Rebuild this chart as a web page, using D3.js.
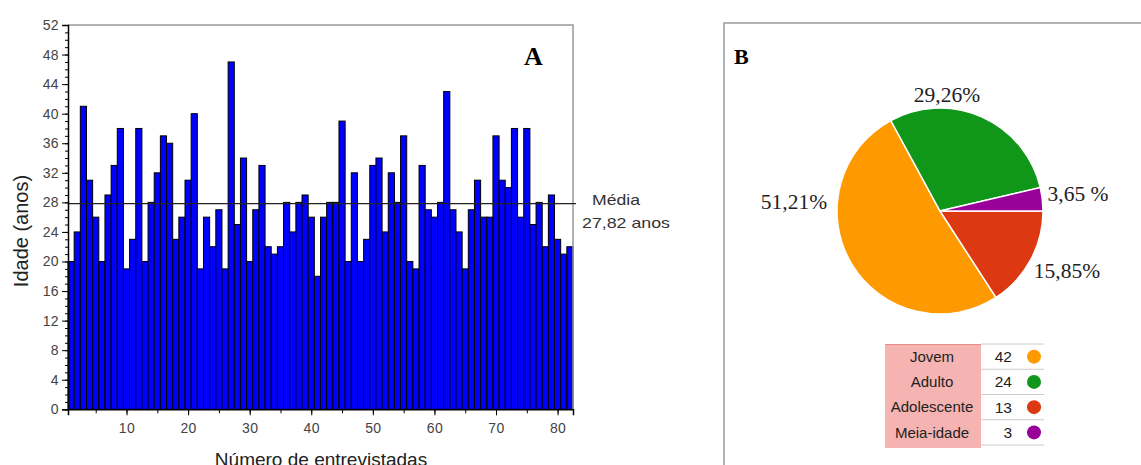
<!DOCTYPE html>
<html><head><meta charset="utf-8">
<script src="https://cdn.jsdelivr.net/npm/d3@7"></script>
<style>
body{margin:0;background:#fff;}
svg{display:block;font-family:"Liberation Sans",Arial,sans-serif;}
.tk text{fill:#444;font-size:14px;letter-spacing:0.4px;}
.tk path,.tk line{stroke:#000;}
</style></head>
<body><svg id="c" width="1141" height="465"></svg>
<script>
const W=1141,H=465;
// idade de cada entrevistada (1..82)
const idades=[20,24,41,31,26,20,29,33,38,19,23,38,20,28,32,37,36,23,26,31,40,19,
  26,22,27,19,47,25,34,20,27,33,22,21,22,28,24,28,29,26,18,26,28,28,39,20,32,20,23,33,
  34,24,32,28,37,20,19,33,27,26,28,43,27,24,19,27,31,26,26,37,31,30,38,26,38,25,28,22,29,23,21,22];
const media=27.82;
const yTicks=d3.range(0,53,4);
const xTicks=[10,20,30,40,50,60,70,80];

const grupos=['Jovem','Adulto','Adolescente','Meia-idade'];
const contagens=[42,24,13,3];
const cores=['#ff9900','#109618','#dc3912','#990099'];
const rotulos=['51,21%','29,26%','15,85%','3,65 %'];
const ordemPizza=['Adolescente','Jovem','Adulto','Meia-idade'];

const svg=d3.select('#c');
svg.append('rect').attr('width',W).attr('height',H).attr('fill','#fff');

/* ---------- painel A ---------- */
const L=68,R=573,T=25,B=409.3;
const x=d3.scaleLinear().domain([0.5,82.5]).range([L,R]);
const y=d3.scaleLinear().domain([0,52]).range([B,T]);
const gA=svg.append('g');
const bw=x(1)-x(0);
gA.selectAll('rect.bar').data(idades).join('rect').attr('class','bar')
  .attr('x',(d,i)=>x(i+1)-bw/2).attr('width',bw)
  .attr('y',d=>y(d)).attr('height',d=>B-y(d))
  .attr('fill','#0000ff').attr('stroke','#000').attr('stroke-width',1);
// moldura
gA.append('path').attr('d',`M${L},${T}H${R}V${B}`).attr('fill','none').attr('stroke','#999').attr('stroke-width',1.5);
// linha média
gA.append('line').attr('x1',L).attr('x2',R+3).attr('y1',y(media)).attr('y2',y(media))
  .attr('stroke','#222').attr('stroke-width',1.2);
gA.append('text').attr('x',592).attr('y',205).attr('fill','#333').attr('font-size',15)
  .attr('textLength',48).attr('lengthAdjust','spacingAndGlyphs').text('Média');
gA.append('text').attr('x',582).attr('y',228).attr('fill','#333').attr('font-size',15)
  .attr('textLength',88).attr('lengthAdjust','spacingAndGlyphs').text('27,82 anos');
// eixos
gA.append('g').attr('class','tk').attr('transform',`translate(${L},0)`)
  .call(d3.axisLeft(y).tickValues(d3.range(0,53,1)).tickSize(3).tickFormat(''));
gA.append('g').attr('class','tk').attr('transform',`translate(${L},0)`)
  .call(d3.axisLeft(y).tickValues(yTicks).tickSize(6).tickPadding(3))
  .call(g=>g.select('.domain').attr('stroke-width',1.5));
gA.append('g').attr('class','tk').attr('transform',`translate(0,${B})`)
  .call(d3.axisBottom(x).tickValues(d3.range(5,83,5)).tickSize(4).tickFormat(''))
  .call(g=>g.select('.domain').remove());
gA.append('g').attr('class','tk').attr('transform',`translate(0,${B})`)
  .call(d3.axisBottom(x).tickValues(xTicks).tickSize(6).tickPadding(8))
  .call(g=>g.select('.domain').attr('stroke-width',1.5));
gA.append('text').attr('transform','translate(28,231) rotate(-90)').attr('text-anchor','middle')
  .attr('font-size',20).attr('fill','#222').text('Idade (anos)');
gA.append('text').attr('x',321).attr('y',466).attr('text-anchor','middle')
  .attr('font-size',19).attr('fill','#222').text('Número de entrevistadas');
gA.append('text').attr('x',524).attr('y',65).attr('font-family','"Liberation Serif",serif')
  .attr('font-weight','bold').attr('font-size',26).text('A');

/* ---------- painel B ---------- */
const gB=svg.append('g');
gB.append('rect').attr('x',724).attr('y',23).attr('width',440).attr('height',460)
  .attr('fill','none').attr('stroke','#999').attr('stroke-width',1.5);
gB.append('text').attr('x',734).attr('y',64).attr('font-family','"Liberation Serif",serif')
  .attr('font-weight','bold').attr('font-size',22).text('B');
const dados=grupos.map((g,i)=>({nome:g,v:contagens[i],cor:cores[i],rot:rotulos[i]}));
const pie=d3.pie().value(d=>d.v).sort((a,b)=>ordemPizza.indexOf(a.nome)-ordemPizza.indexOf(b.nome))
  .startAngle(Math.PI/2).endAngle(Math.PI/2+2*Math.PI);
const arc=d3.arc().innerRadius(0).outerRadius(103);
const gp=gB.append('g').attr('transform','translate(940,211)');
gp.selectAll('path').data(pie(dados)).join('path').attr('d',arc)
  .attr('fill',d=>d.data.cor).attr('stroke','#fff').attr('stroke-width',1.5);
const posRot={'Jovem':[794,209],'Adulto':[947,102],'Adolescente':[1067,278],'Meia-idade':[1078,201]};
gB.selectAll('text.pct').data(dados).join('text').attr('class','pct')
  .attr('x',d=>posRot[d.nome][0]).attr('y',d=>posRot[d.nome][1]).attr('text-anchor','middle')
  .attr('font-family','"Liberation Serif",serif').attr('font-size',21.5).attr('fill','#222').text(d=>d.rot);
// tabela-legenda
const rowY=d3.scaleLinear().domain([0,4]).range([344,445]);
const rh=rowY(1)-rowY(0);
gB.append('rect').attr('x',885).attr('y',344).attr('width',96).attr('height',104).attr('fill','#f5b4b1');
gB.append('line').attr('x1',885).attr('x2',981).attr('y1',344.5).attr('y2',344.5).attr('stroke','#e88a86');
gB.selectAll('line.sep').data(d3.range(5)).join('line').attr('class','sep')
  .attr('x1',981).attr('x2',1044).attr('y1',d=>rowY(d)).attr('y2',d=>rowY(d))
  .attr('stroke','#ccc');
const rows=gB.selectAll('g.row').data(dados).join('g').attr('class','row')
  .attr('transform',(d,i)=>`translate(0,${rowY(i)+rh/2})`);
rows.append('text').attr('x',932).attr('dy','0.35em').attr('text-anchor','middle')
  .attr('font-size',15).attr('fill','#222').text(d=>d.nome);
rows.append('text').attr('x',1012).attr('dy','0.35em').attr('text-anchor','end')
  .attr('font-size',15.5).attr('fill','#222').text(d=>d.v);
rows.append('circle').attr('cx',1034).attr('r',7).attr('fill',d=>d.cor);
</script></body></html>
